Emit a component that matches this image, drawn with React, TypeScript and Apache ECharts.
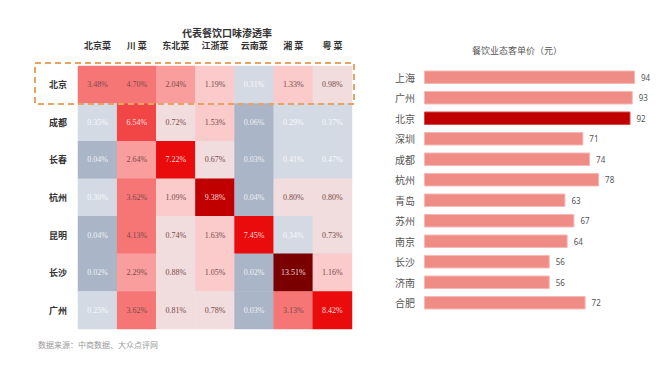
import React, { useEffect, useRef } from 'react';
import * as echarts from 'echarts';

const cuisines = ['北京菜', '川 菜', '东北菜', '江浙菜', '云南菜', '湘 菜', '粤 菜'];
const cities = ['北京', '成都', '长春', '杭州', '昆明', '长沙', '广州'];
const beijing = [3.48, 4.7, 2.04, 1.19, 0.31, 1.33, 0.98];
const chengdu = [0.35, 6.54, 0.72, 1.53, 0.06, 0.29, 0.37];
const changchun = [0.04, 2.64, 7.22, 0.67, 0.03, 0.41, 0.47];
const hangzhou = [0.3, 3.62, 1.09, 9.38, 0.04, 0.8, 0.8];
const kunming = [0.04, 4.13, 0.74, 1.63, 7.45, 0.34, 0.73];
const changsha = [0.02, 2.29, 0.88, 1.05, 0.02, 13.51, 1.16];
const guangzhou = [0.25, 3.62, 0.81, 0.78, 0.03, 3.13, 8.42];
const rowsData = [beijing, chengdu, changchun, hangzhou, kunming, changsha, guangzhou];

const priceCities = ['上海', '广州', '北京', '深圳', '成都', '杭州', '青岛', '苏州', '南京', '长沙', '济南', '合肥'];
const prices = [94, 93, 92, 71, 74, 78, 63, 67, 64, 56, 56, 72];
const highlightCity = '北京';

const CJK = '"Noto Sans CJK SC", "Noto Sans", sans-serif';

export default function App() {
  const ref = useRef<HTMLDivElement>(null);
  useEffect(() => {
    if (!ref.current) return;
    const chart = echarts.init(ref.current, null, { renderer: 'svg' });
    const heatData: any[] = [];
    rowsData.forEach((row, r) => {
      row.forEach((v, c) => {
        const light = v < 0.6 || v >= 5;
        heatData.push({
          value: [c, r, v],
          label: { color: light ? 'rgba(255,255,255,0.85)' : '#7a4a4a' },
        });
      });
    });
    const barData = prices.map((v, i) => ({
      value: v,
      itemStyle: {
        color: priceCities[i] === highlightCity ? '#c00000' : '#f08c86',
        borderColor: priceCities[i] === highlightCity ? '#d84a4a' : '#f6b9b5',
        borderWidth: 1,
      },
    }));
    chart.setOption({
      animation: false,
      backgroundColor: '#ffffff',
      title: [
        {
          text: '代表餐饮口味渗透率',
          left: 222,
          top: 22,
          textAlign: 'center',
          textStyle: { fontSize: 10, fontWeight: 'bold', color: '#333', fontFamily: CJK },
        },
        {
          text: '餐饮业态客单价（元）',
          left: 512,
          top: 41,
          textAlign: 'center',
          textStyle: { fontSize: 9, fontWeight: 'normal', color: '#555', fontFamily: CJK },
        },
      ],
      grid: [
        { left: 78, top: 66, width: 274, height: 263 },
        { left: 424, top: 67, width: 211, height: 246 },
      ],
      xAxis: [
        {
          type: 'category',
          gridIndex: 0,
          data: cuisines,
          position: 'top',
          axisLine: { show: false },
          axisTick: { show: false },
          splitLine: { show: false },
          axisLabel: { fontSize: 9, fontWeight: 'bold', color: '#333', margin: 16, fontFamily: CJK },
        },
        {
          type: 'value',
          gridIndex: 1,
          min: 0,
          max: 94,
          show: false,
        },
      ],
      yAxis: [
        {
          type: 'category',
          gridIndex: 0,
          data: cities,
          inverse: true,
          axisLine: { show: false },
          axisTick: { show: false },
          splitLine: { show: false },
          axisLabel: { fontSize: 9, fontWeight: 'bold', color: '#333', margin: 11, fontFamily: CJK },
        },
        {
          type: 'category',
          gridIndex: 1,
          data: priceCities,
          inverse: true,
          axisLine: { show: false },
          axisTick: { show: false },
          axisLabel: { fontSize: 10, color: '#555', margin: 9, fontFamily: CJK },
        },
      ],
      visualMap: {
        type: 'piecewise',
        show: false,
        seriesIndex: 0,
        dimension: 2,
        pieces: [
          { lt: 0.1, color: '#aab5c7' },
          { gte: 0.1, lt: 0.6, color: '#d4dae4' },
          { gte: 0.6, lt: 1.04, color: '#f1dddd' },
          { gte: 1.04, lt: 1.8, color: '#fbcaca' },
          { gte: 1.8, lt: 3, color: '#fa9d9d' },
          { gte: 3, lt: 5, color: '#f67676' },
          { gte: 5, lt: 7, color: '#f24646' },
          { gte: 7, lt: 9, color: '#ea0c0c' },
          { gte: 9, lt: 12, color: '#c00000' },
          { gte: 12, color: '#7a0000' },
        ],
      },
      series: [
        {
          type: 'heatmap',
          xAxisIndex: 0,
          yAxisIndex: 0,
          data: heatData,
          label: {
            show: true,
            fontSize: 8,
            fontFamily: '"Liberation Serif", serif',
            formatter: (p: any) => p.value[2].toFixed(2) + '%',
          },
        },
        {
          type: 'bar',
          xAxisIndex: 1,
          yAxisIndex: 1,
          data: barData,
          barWidth: '66%',
          label: { show: true, position: 'right', fontSize: 8, color: '#555', distance: 6, fontFamily: '"Noto Sans", sans-serif' },
        },
      ],
      graphic: [
        {
          type: 'rect',
          shape: { x: 35, y: 63, width: 319, height: 41 },
          style: { fill: 'none', stroke: '#e9a361', lineWidth: 2, lineDash: [6, 4] },
          z: 100,
        },
        {
          type: 'text',
          left: 38,
          top: 340,
          style: { text: '数据来源：中商数据、大众点评网', fontSize: 8, fill: '#9a9a9a', fontFamily: CJK },
        },
      ],
    });
    return () => chart.dispose();
  }, []);
  return <div ref={ref} style={{ position: 'fixed', left: 0, top: 0, width: 660, height: 367 }} />;
}
